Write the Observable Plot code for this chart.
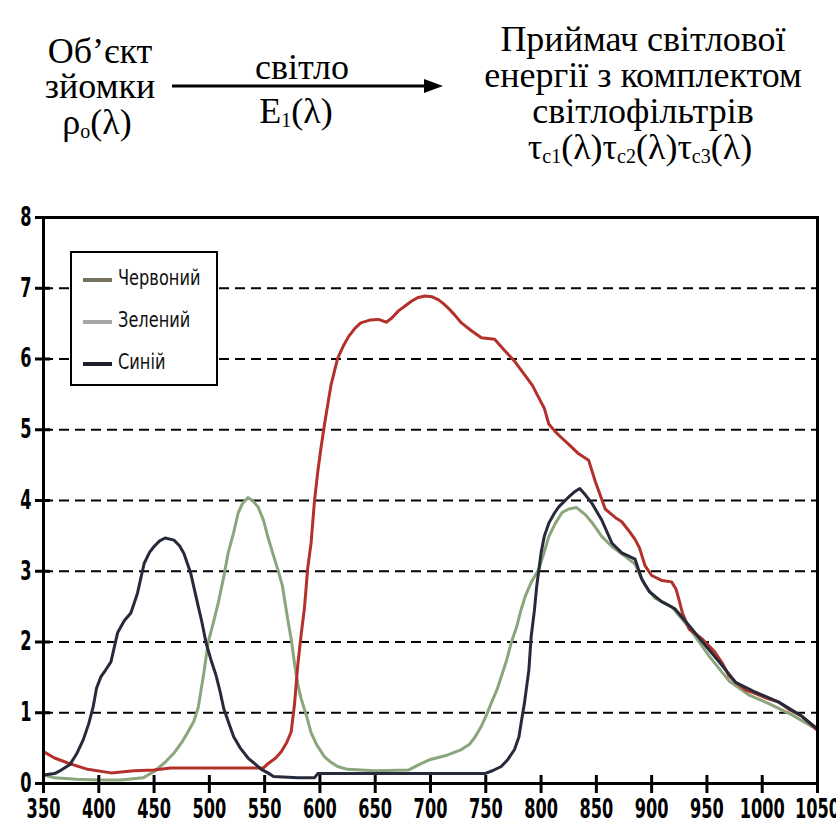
<!DOCTYPE html>
<html>
<head>
<meta charset="utf-8">
<script src="https://cdn.jsdelivr.net/npm/d3@7"></script>
<script src="https://cdn.jsdelivr.net/npm/@observablehq/plot@0.6"></script>
<style>
  html, body { margin: 0; padding: 0; background: #fff; }
  #wrap { position: relative; width: 836px; height: 823px; overflow: hidden; }
  #head { display: block; }
  #head text { font-family: "Liberation Serif", "Times New Roman", Times, "Tinos", "Noto Serif", "DejaVu Serif", "Nimbus Roman", "FreeSerif", serif; }
  #chart svg { display: block; }
  #legend { position: absolute; left: 70px; top: 251px; width: 148px; height: 135px; box-sizing: border-box;
            border: 2.5px solid #000; background: #fff; }
  .li { position: absolute; left: 11px; height: 24px; }
  .li .sw { position: absolute; left: 0; top: 10px; width: 29px; height: 4px; }
  .li .tx { position: absolute; left: 35px; top: -1px; white-space: nowrap;
            font-family: "DejaVu Sans Condensed", sans-serif;
            font-size: 18px; color: #111; transform: scaleY(1.15); transform-origin: 0 50%; }
</style>
</head>
<body>
<div id="wrap">
  <svg id="head" width="836" height="190" xmlns="http://www.w3.org/2000/svg"></svg>
  <div id="chart"></div>
  <div id="legend"></div>
</div>
<script>
// ---------- data ----------
const xTicks = [350, 400, 450, 500, 550, 600, 650, 700, 750, 800, 850, 900, 950, 1000, 1050];
const yTicks = [0, 1, 2, 3, 4, 5, 6, 7, 8];
const gridY = [1, 2, 3, 4, 5, 6, 7];

const seriesNames = ["Червоний", "Зелений", "Синій"];
const legendColors = ["#77735f", "#a6a6a6", "#1f1f28"];
const lineColors = ["#b3302b", "#8ba57c", "#272a3a"];

const redNm  = [350,360,372,390,411,432,450,465,500,549,553,560,565,570,574,577,580,583,586,589,592,595,598,601,604,607,610,616,621,626,632,637,645,653,660,665,671,677,683,689,695,701,707,712,716,722,728,737,746,758,767,776,784,792,798,803,807,813,819,826,834,843,849,853,858,867,873,879,885,889,894,900,909,918,922,925,928,934,946,957,964,970,976,985,994,1005,1015,1025,1036,1050];
const redVal = [0.45,0.36,0.29,0.20,0.15,0.18,0.19,0.22,0.22,0.22,0.28,0.36,0.45,0.58,0.73,1.12,1.68,2.10,2.48,3.05,3.40,3.98,4.40,4.75,5.06,5.35,5.63,6.01,6.18,6.32,6.44,6.51,6.55,6.56,6.52,6.58,6.68,6.75,6.82,6.87,6.89,6.88,6.84,6.78,6.72,6.62,6.51,6.40,6.30,6.28,6.12,5.97,5.80,5.63,5.45,5.30,5.08,4.97,4.88,4.78,4.66,4.57,4.27,4.10,3.88,3.76,3.70,3.58,3.45,3.33,3.08,2.94,2.87,2.85,2.75,2.58,2.40,2.18,2.04,1.86,1.70,1.52,1.43,1.32,1.27,1.20,1.15,1.04,0.95,0.75];

const greenNm  = [350,360,380,400,420,440,450,460,468,475,480,486,490,495,499,504,508,513,517,522,526,530,535,539,544,549,553,558,562,566,571,574,577,580,583,588,592,597,604,610,616,625,650,680,690,700,715,728,735,740,746,751,755,760,764,769,773,778,782,786,791,798,803,807,813,819,825,832,840,846,855,864,876,885,894,903,918,934,952,970,988,1006,1027,1050];
const greenVal = [0.12,0.08,0.06,0.05,0.05,0.08,0.17,0.30,0.43,0.58,0.71,0.88,1.08,1.56,2.00,2.30,2.55,2.92,3.26,3.55,3.82,3.96,4.04,4.00,3.91,3.72,3.48,3.22,3.02,2.80,2.31,2.04,1.70,1.40,1.20,0.95,0.72,0.55,0.38,0.30,0.24,0.20,0.18,0.19,0.27,0.34,0.40,0.48,0.55,0.65,0.81,0.98,1.14,1.32,1.51,1.75,1.99,2.22,2.46,2.66,2.84,3.03,3.28,3.49,3.68,3.83,3.88,3.90,3.80,3.69,3.49,3.35,3.21,3.10,2.80,2.62,2.50,2.20,1.80,1.45,1.25,1.13,0.97,0.76];

const blueNm  = [350,360,366,374,380,386,391,395,398,402,406,411,417,423,429,435,441,446,450,455,460,468,473,477,483,490,493,497,502,506,510,513,517,522,528,535,541,547,553,558,580,595,598,700,749,756,764,770,776,780,782,785,789,791,794,796,800,803,807,812,816,825,830,835,840,846,855,864,873,885,891,898,909,921,934,946,961,976,994,1015,1036,1050];
const blueVal = [0.12,0.14,0.19,0.27,0.42,0.62,0.85,1.09,1.35,1.51,1.60,1.72,2.13,2.30,2.41,2.69,3.11,3.27,3.35,3.43,3.47,3.44,3.36,3.25,2.98,2.50,2.30,1.99,1.72,1.53,1.28,1.06,0.88,0.66,0.50,0.36,0.28,0.20,0.15,0.10,0.08,0.08,0.14,0.14,0.14,0.18,0.24,0.34,0.48,0.66,0.86,1.14,1.61,2.07,2.45,2.78,3.26,3.50,3.68,3.82,3.91,4.05,4.12,4.17,4.08,3.96,3.72,3.40,3.26,3.17,2.89,2.71,2.57,2.47,2.23,2.00,1.72,1.43,1.29,1.15,0.95,0.77];

// ---------- header (diagram text) ----------
const headLeft = ["Об’єкт", "зйомки"];
const headRight = ["Приймач світлової", "енергії з комплектом", "світлофільтрів"];
const NS = "http://www.w3.org/2000/svg";
const head = document.getElementById("head");
function addText(x, y, parts) {
  const t = document.createElementNS(NS, "text");
  t.setAttribute("x", x); t.setAttribute("y", y);
  t.setAttribute("text-anchor", "middle");
  t.setAttribute("font-size", 36);
  t.setAttribute("fill", "#000");
  for (const p of parts) {
    const s = document.createElementNS(NS, "tspan");
    s.textContent = p.t;
    if (p.sub) { s.setAttribute("font-size", 20); s.setAttribute("dy", 4); }
    if (p.up) { s.setAttribute("dy", -4); }
    t.appendChild(s);
  }
  head.appendChild(t);
}
addText(100, 63, [{t: headLeft[0]}]);
addText(100, 98, [{t: headLeft[1]}]);
addText(97, 134, [{t: "ρ"}, {t: "o", sub: true}, {t: "(λ)", up: true}]);
addText(302, 79, [{t: "світло"}]);
addText(296, 123, [{t: "E"}, {t: "1", sub: true}, {t: "(λ)", up: true}]);
addText(643, 51, [{t: headRight[0]}]);
addText(643, 87, [{t: headRight[1]}]);
addText(643, 123, [{t: headRight[2]}]);
addText(640, 159, [{t: "τ"}, {t: "c1", sub: true}, {t: "(λ)", up: true}, {t: "τ"}, {t: "c2", sub: true}, {t: "(λ)", up: true}, {t: "τ"}, {t: "c3", sub: true}, {t: "(λ)", up: true}]);
const ln = document.createElementNS(NS, "line");
ln.setAttribute("x1", 172); ln.setAttribute("x2", 428); ln.setAttribute("y1", 86); ln.setAttribute("y2", 86);
ln.setAttribute("stroke", "#000"); ln.setAttribute("stroke-width", 3);
head.appendChild(ln);
const ah = document.createElementNS(NS, "polygon");
ah.setAttribute("points", "424,79 443,86 424,93");
ah.setAttribute("fill", "#000");
head.appendChild(ah);

// ---------- chart ----------
const mk = (nm, v) => nm.map((d, i) => ({nm: d, v: v[i]}));
const red = mk(redNm, redVal), green = mk(greenNm, greenVal), blue = mk(blueNm, blueVal);

const W = 836, H = 633, mL = 43, mR = 19, mT = 27, mB = 40;
const fw = W - mL - mR, fh = H - mT - mB;
const tickFont = "DejaVu Sans Condensed, sans-serif";

const chart = Plot.plot({
  width: W, height: H,
  marginLeft: mL, marginRight: mR, marginTop: mT, marginBottom: mB,
  style: {background: "#fff", color: "#000", overflow: "visible"},
  x: {domain: [350, 1050]},
  y: {domain: [0, 8]},
  marks: [
    Plot.ruleY(gridY, {y: d => d, stroke: "#000", strokeWidth: 2, strokeDasharray: "10,6"}),
    Plot.line(green, {x: "nm", y: "v", stroke: lineColors[1], strokeWidth: 3, curve: "linear"}),
    Plot.line(red, {x: "nm", y: "v", stroke: lineColors[0], strokeWidth: 3, curve: "linear"}),
    Plot.line(blue, {x: "nm", y: "v", stroke: lineColors[2], strokeWidth: 3, curve: "linear"}),
    Plot.frame({stroke: "#000", strokeWidth: 3}),
    Plot.tickX(xTicks, {x: d => d, stroke: "#000", strokeWidth: 3, insetTop: fh - 8, insetBottom: -10}),
    Plot.tickY(yTicks, {y: d => d, stroke: "#000", strokeWidth: 3, insetRight: fw - 7, insetLeft: -8}),
    Plot.axisX({ticks: xTicks, tickSize: 0, tickPadding: 16, label: null, tickFormat: d => String(d),
                fontSize: 18, fontWeight: "bold", fontFamily: tickFont, fill: "#000"}),
    Plot.axisY({ticks: yTicks, tickSize: 0, tickPadding: 12, label: null, tickFormat: d => String(d),
                fontSize: 18, fontWeight: "bold", fontFamily: tickFont, fill: "#000"})
  ]
});
document.getElementById("chart").appendChild(chart);

// stretch tick labels vertically (tall, narrow lettering as in the reference)
chart.querySelectorAll('g[aria-label="x-axis tick label"] text, g[aria-label="y-axis tick label"] text').forEach(t => {
  const tr = t.getAttribute("transform");
  if (tr) {
    t.setAttribute("transform", tr + " scale(1,1.45)");
  } else {
    const x = +t.getAttribute("x") || 0, y = +t.getAttribute("y") || 0;
    t.setAttribute("x", 0); t.setAttribute("y", 0);
    t.setAttribute("transform", `translate(${x},${y}) scale(1,1.45)`);
  }
});

// ---------- legend ----------
const legend = document.getElementById("legend");
const legendTops = [15, 57, 99];
seriesNames.forEach((name, i) => {
  const it = document.createElement("div");
  it.className = "li";
  it.style.top = legendTops[i] + "px";
  const sw = document.createElement("div");
  sw.className = "sw"; sw.style.background = legendColors[i];
  const tx = document.createElement("div");
  tx.className = "tx"; tx.textContent = name;
  it.appendChild(sw); it.appendChild(tx);
  legend.appendChild(it);
});
</script>
</body>
</html>
